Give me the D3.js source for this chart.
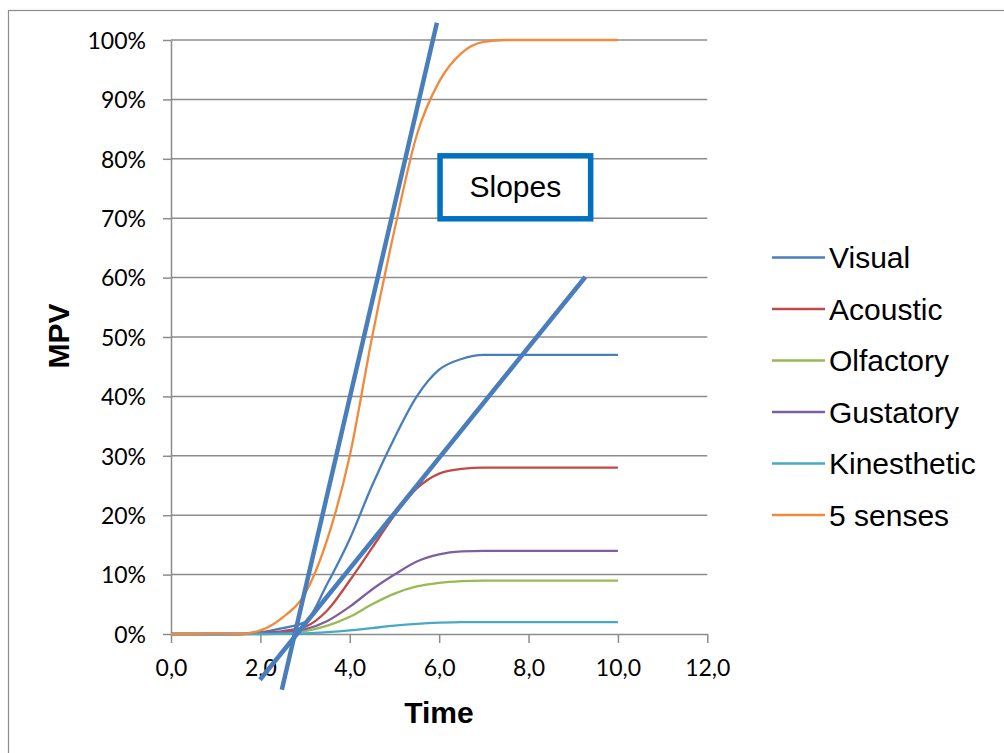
<!DOCTYPE html>
<html>
  <head>
    <script src="https://d3js.org/d3.v7.min.js"></script>
    <title>MPV over time</title>
    <style>
      html, body { margin: 0; padding: 0; background: #fff; }
      svg { display: block; }
      .tick-label { font-family: Lato, "Open Sans", sans-serif; font-size: 23px; fill: #000; }
      .legend-label { font-family: "Liberation Sans", Arial, sans-serif; font-size: 30px; fill: #000; }
      .axis-title { font-family: "Liberation Sans", Arial, sans-serif; font-size: 30px; font-weight: bold; fill: #000; }
    </style>
  </head>
  <body>
    <svg id="chart" width="1004" height="753"></svg>
    <script>
      // data (percent)
      var time = [0, 0.5, 1, 1.5, 2, 2.5, 3, 3.5, 4, 4.5, 5, 5.5, 6, 6.5, 7, 7.5, 8, 8.5, 9, 9.5, 10];
      var visual      = [0, 0, 0, 0, 0.3, 1, 2, 8.5, 16, 25, 33, 40, 44.5, 46.3, 47, 47, 47, 47, 47, 47, 47];
      var acoustic    = [0, 0, 0, 0, 0.2, 0.5, 1.2, 4, 9, 14.5, 20, 24.5, 27, 27.8, 28, 28, 28, 28, 28, 28, 28];
      var olfactory   = [0, 0, 0, 0, 0.1, 0.2, 0.5, 1.4, 2.9, 5, 6.8, 8, 8.6, 8.9, 9, 9, 9, 9, 9, 9, 9];
      var gustatory   = [0, 0, 0, 0, 0.1, 0.3, 0.8, 2.2, 4.6, 7.5, 10, 12.2, 13.4, 13.9, 14, 14, 14, 14, 14, 14, 14];
      var kinesthetic = [0, 0, 0, 0, 0, 0.05, 0.1, 0.3, 0.6, 1, 1.4, 1.7, 1.9, 2, 2, 2, 2, 2, 2, 2, 2];
      var fiveSenses  = [0, 0, 0.1, 0, 0.6, 2.8, 6.8, 16, 30, 50, 68, 84, 93, 97.8, 99.7, 100, 100, 100, 100, 100, 100];

      var seriesNames = ["Visual", "Acoustic", "Olfactory", "Gustatory", "Kinesthetic", "5 senses"];
      var seriesValues = [visual, acoustic, olfactory, gustatory, kinesthetic, fiveSenses];
      var seriesColors = ["#4a7ebb", "#be4b48", "#98b954", "#7d60a0", "#46aac5", "#f08a3c"];

      var xTicks = [0, 2, 4, 6, 8, 10, 12];
      var yTicks = [0, 10, 20, 30, 40, 50, 60, 70, 80, 90, 100];

      // the two drawn "slope" lines (x, percent)
      var slopeSteepX = [2.48, 5.95], slopeSteepY = [-9.4, 102.9];
      var slopeFlatX = [1.99, 9.27], slopeFlatY = [-7.7, 60.1];
      // annotation box corners (x, percent)
      var boxX = [6.02, 9.39], boxY = [80.5, 69.9];

      var svg = d3.select("#chart");

      var x = d3.scaleLinear().domain([0, 12]).range([171, 707.3]);
      var y = d3.scaleLinear().domain([0, 100]).range([634, 40]);

      // outer frame
      svg.append("rect")
        .attr("x", 8.5).attr("y", 10.5)
        .attr("width", 1010).attr("height", 760)
        .attr("fill", "none").attr("stroke", "#8c8c8c").attr("stroke-width", 1.2);

      // gridlines
      svg.append("g").selectAll("line").data(yTicks.slice(1)).enter().append("line")
        .attr("x1", x(0)).attr("x2", x(12))
        .attr("y1", d => y(d)).attr("y2", d => y(d))
        .attr("stroke", "#8c8c8c").attr("stroke-width", 1.5);

      // y axis
      var yAxis = svg.append("g").attr("transform", "translate(" + x(0) + ",0)")
        .call(d3.axisLeft(y).tickValues(yTicks).tickSize(8).tickSizeOuter(0)
          .tickFormat(d => d + "%"));
      // x axis
      var xAxis = svg.append("g").attr("transform", "translate(0," + y(0) + ")")
        .call(d3.axisBottom(x).tickValues(xTicks).tickSize(9).tickSizeOuter(0)
          .tickFormat(d => d3.format(".1f")(d).replace(".", ",")));

      [yAxis, xAxis].forEach(function(ax) {
        ax.attr("font-size", null).attr("font-family", null);
        ax.select(".domain").attr("stroke", "#8c8c8c").attr("stroke-width", 1.5);
        ax.selectAll(".tick line").attr("stroke", "#8c8c8c").attr("stroke-width", 1.5);
        ax.selectAll(".tick text").attr("class", "tick-label");
      });
      yAxis.selectAll(".tick text").attr("x", -25).attr("dy", "0.36em");
      xAxis.selectAll(".tick text").attr("y", 26).attr("dy", "0.71em");

      // series
      var line = d3.line()
        .x((d, i) => x(time[i]))
        .y(d => y(d))
        .curve(d3.curveMonotoneX);

      svg.append("g").selectAll("path").data(seriesValues).enter().append("path")
        .attr("d", d => line(d))
        .attr("fill", "none")
        .attr("stroke", (d, i) => seriesColors[i])
        .attr("stroke-width", 2.3);

      // slope lines
      [[slopeSteepX, slopeSteepY], [slopeFlatX, slopeFlatY]].forEach(function(s) {
        svg.append("line")
          .attr("x1", x(s[0][0])).attr("y1", y(s[1][0]))
          .attr("x2", x(s[0][1])).attr("y2", y(s[1][1]))
          .attr("stroke", "#4a7ebb").attr("stroke-width", 4.5);
      });

      // annotation box
      svg.append("rect")
        .attr("x", x(boxX[0])).attr("y", y(boxY[0]))
        .attr("width", x(boxX[1]) - x(boxX[0]))
        .attr("height", y(boxY[1]) - y(boxY[0]))
        .attr("fill", "#fff").attr("stroke", "#0070c0").attr("stroke-width", 5.5);
      svg.append("text")
        .attr("class", "legend-label")
        .attr("x", (x(boxX[0]) + x(boxX[1])) / 2)
        .attr("y", (y(boxY[0]) + y(boxY[1])) / 2 + 10)
        .attr("text-anchor", "middle")
        .text("Slopes");

      // legend
      var leg = svg.append("g").selectAll("g").data(seriesNames).enter().append("g")
        .attr("transform", (d, i) => "translate(772," + (257.5 + i * 51.5) + ")");
      leg.append("line").attr("x1", 0).attr("x2", 53)
        .attr("stroke", (d, i) => seriesColors[i]).attr("stroke-width", 2.3);
      leg.append("text").attr("class", "legend-label")
        .attr("x", 57).attr("y", 10.5).text(d => d);

      // axis titles
      svg.append("text").attr("class", "axis-title")
        .attr("x", 439).attr("y", 723).attr("text-anchor", "middle").text("Time");
      svg.append("text").attr("class", "axis-title")
        .attr("transform", "translate(69,336) rotate(-90)")
        .attr("text-anchor", "middle").text("MPV");
    </script>
  </body>
</html>
